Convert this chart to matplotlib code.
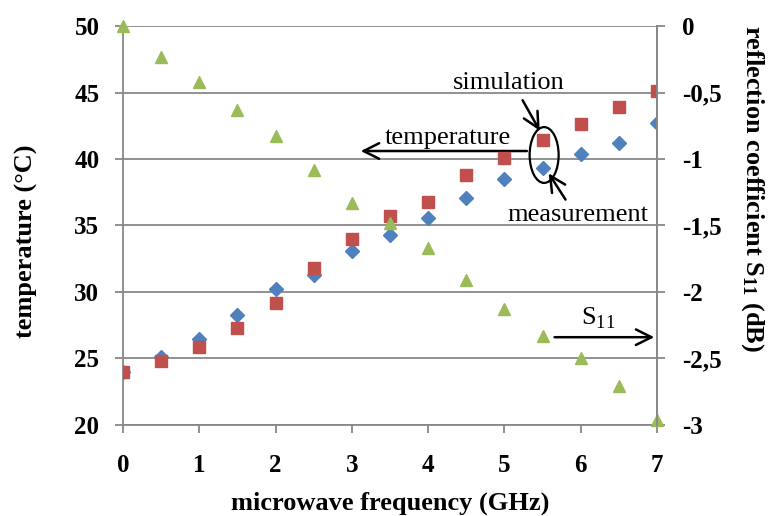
import matplotlib
matplotlib.use("Agg")
import matplotlib.pyplot as plt
from matplotlib.patches import Ellipse

plt.rcParams['font.family'] = ['Liberation Serif', 'DejaVu Serif']
plt.rcParams['mathtext.fontset'] = 'custom'
plt.rcParams['mathtext.rm'] = 'Liberation Serif'
plt.rcParams['mathtext.bf'] = 'Liberation Serif:bold'

# Data
freq = [0, 0.5, 1, 1.5, 2, 2.5, 3, 3.5, 4, 4.5, 5, 5.5, 6, 6.5, 7]  # GHz
temp_measured = [24.0, 25.1, 26.5, 28.3, 30.2, 31.3, 33.1, 34.3, 35.6, 37.1, 38.5, 39.3, 40.4, 41.2, 42.7]
temp_simulated = [24.0, 24.8, 25.9, 27.3, 29.2, 31.8, 34.0, 35.7, 36.8, 38.8, 40.1, 41.4, 42.6, 43.9, 45.1]
s11 = [0.0, -0.23, -0.42, -0.63, -0.83, -1.08, -1.33, -1.48, -1.67, -1.91, -2.13, -2.33, -2.50, -2.71, -2.96]

x_ticks = [0, 1, 2, 3, 4, 5, 6, 7]
temp_ticks = [20, 25, 30, 35, 40, 45, 50]
s11_ticks = [0, -0.5, -1, -1.5, -2, -2.5, -3]
s11_tick_labels = ['0', '-0,5', '-1', '-1,5', '-2', '-2,5', '-3']

grey = '#888888'
blue = '#4F81BD'
red = '#C0504D'
green = '#9BBB59'

fig, ax = plt.subplots(figsize=(7.69, 5.16), dpi=100)
fig.subplots_adjust(left=0.16, right=0.8544, top=0.9496, bottom=0.1764)

ax.plot(freq, temp_measured, linestyle='none', marker='D', markersize=7, color=blue, zorder=3)
ax.plot(freq, temp_simulated, linestyle='none', marker='s', markersize=8.5, color=red, zorder=4)
ax.set_xlim(0, 7)
ax.set_ylim(20, 50)
ax.set_xticks(x_ticks)
ax.set_yticks(temp_ticks)
ax.yaxis.grid(True, color=grey, lw=1.3)
ax.set_axisbelow(True)

ax2 = ax.twinx()
ax2.plot(freq, s11, linestyle='none', marker='^', markersize=8.5, color=green, clip_on=False)
ax2.set_ylim(-3, 0)
ax2.set_yticks(s11_ticks)
ax2.set_yticklabels(s11_tick_labels)

for a in (ax, ax2):
    a.spines['top'].set_visible(False)
    for side in ('left', 'right', 'bottom'):
        a.spines[side].set_color(grey)
        a.spines[side].set_linewidth(1.3)
    a.tick_params(colors=grey, width=1.3, length=6, labelcolor='black', labelsize=18)
ax.tick_params(axis='x', pad=15)
ax.tick_params(axis='y', pad=11)
ax2.tick_params(axis='y', pad=12)
for lab in ax.get_xticklabels() + ax.get_yticklabels() + ax2.get_yticklabels():
    lab.set_fontweight('bold')
ax2.spines['left'].set_visible(False)
ax2.spines['bottom'].set_visible(False)

ax.set_xlabel('microwave frequency (GHz)', fontsize=19, fontweight='bold')
ax.xaxis.label.set_va('bottom')
ax.xaxis.set_label_coords(0.5, -0.2245)
ax.set_ylabel('temperature (°C)', fontsize=19, fontweight='bold')
ax.yaxis.set_label_coords(-0.159, 0.46)
fig.text(0.979, 0.634, r'reflection coefficient $\mathbf{S_{11}}$ (dB)', rotation=-90,
         ha='center', va='center', fontsize=19, fontweight='bold')

# annotations
arrow = dict(arrowstyle='->', color='black', lw=1.8, mutation_scale=28)
ax.text(5.05, 45.7, 'simulation', fontsize=19, ha='center', va='center')
ax.annotate('', xy=(5.48, 41.95), xytext=(5.22, 44.6), arrowprops=arrow)
ax.text(4.26, 41.6, 'temperature', fontsize=19, ha='center', va='center')
ax.annotate('', xy=(3.08, 40.6), xytext=(5.33, 40.6), arrowprops=arrow)
ax.add_patch(Ellipse((5.52, 40.3), 0.38, 4.2, fill=False, edgecolor='black', lw=1.6, zorder=5))
ax.text(5.96, 35.8, 'measurement', fontsize=19, ha='center', va='center')
ax.annotate('', xy=(5.56, 39.1), xytext=(5.82, 36.77), arrowprops=arrow)
ax.text(6.23, 28.05, r'S$_{11}$', fontsize=19, ha='center', va='center')
ax.annotate('', xy=(7.0, 26.6), xytext=(5.62, 26.6), arrowprops=arrow)

fig.savefig('out.png', dpi=100)
